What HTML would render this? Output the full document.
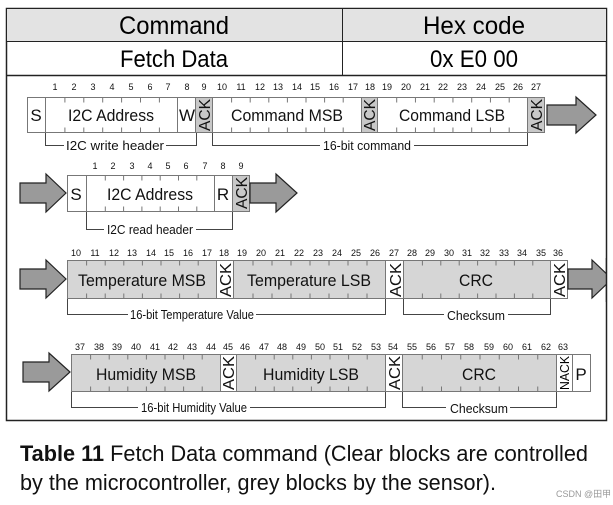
<!DOCTYPE html>
<html><head><meta charset="utf-8"><style>
html,body{margin:0;padding:0;background:#fff;}
svg{display:block;font-family:"Liberation Sans",Arial,sans-serif;}
.n{font-size:9px;text-anchor:middle;fill:#111}
.L{font-size:17px;text-anchor:middle;fill:#111}
.b{font-size:13px;text-anchor:middle;fill:#111}
.a{font-size:16px;text-anchor:middle;fill:#111}
.bx{stroke:#777;stroke-width:1}
.tk{stroke:#777;stroke-width:5}
.br{fill:none;stroke:#444;stroke-width:1}
.ar{fill:#9a9a9a;stroke:#222;stroke-width:1.2}
</style></head><body>
<svg width="613" height="505" viewBox="0 0 613 505">
<rect x="6.5" y="8.5" width="600" height="412" fill="#fff" stroke="#222" stroke-width="1.5"/>
<rect x="7" y="9" width="599" height="32" fill="#e3e3e3"/>
<line x1="6" y1="41.5" x2="607" y2="41.5" stroke="#222"/>
<line x1="6" y1="75.5" x2="607" y2="75.5" stroke="#222" stroke-width="1.5"/>
<line x1="342.5" y1="8" x2="342.5" y2="75" stroke="#222"/>
<text x="174" y="34" font-size="25" text-anchor="middle" textLength="110" lengthAdjust="spacingAndGlyphs">Command</text>
<text x="474" y="34" font-size="25" text-anchor="middle" textLength="102" lengthAdjust="spacingAndGlyphs">Hex code</text>
<text x="174" y="67" font-size="24" text-anchor="middle" textLength="108" lengthAdjust="spacingAndGlyphs">Fetch Data</text>
<text x="474" y="67" font-size="24" text-anchor="middle" textLength="88" lengthAdjust="spacingAndGlyphs">0x E0 00</text>

<!-- Row 1 -->
<g class="n">
<text x="55" y="90">1</text><text x="74" y="90">2</text><text x="93" y="90">3</text><text x="112" y="90">4</text><text x="131" y="90">5</text><text x="150" y="90">6</text><text x="168" y="90">7</text><text x="187" y="90">8</text><text x="204" y="90">9</text>
<text x="222" y="90">10</text><text x="241" y="90">11</text><text x="260" y="90">12</text><text x="278" y="90">13</text><text x="297" y="90">14</text><text x="315" y="90">15</text><text x="334" y="90">16</text><text x="353" y="90">17</text><text x="370" y="90">18</text>
<text x="387" y="90">19</text><text x="406" y="90">20</text><text x="425" y="90">21</text><text x="443" y="90">22</text><text x="462" y="90">23</text><text x="481" y="90">24</text><text x="500" y="90">25</text><text x="518" y="90">26</text><text x="536" y="90">27</text>
</g>
<rect class="bx" x="27.5" y="97.5" width="18" height="35" fill="#fff"/>
<rect class="bx" x="45.5" y="97.5" width="132" height="35" fill="#fff"/>
<rect class="bx" x="177.5" y="97.5" width="18" height="35" fill="#fff"/>
<rect class="bx" x="195.5" y="97.5" width="17" height="35" fill="#c8c8c8"/>
<rect class="bx" x="212.5" y="97.5" width="149" height="35" fill="#fff"/>
<rect class="bx" x="361.5" y="97.5" width="16" height="35" fill="#c8c8c8"/>
<rect class="bx" x="377.5" y="97.5" width="150" height="35" fill="#fff"/>
<rect class="bx" x="527.5" y="97.5" width="17" height="35" fill="#c8c8c8"/>
<line class="tk" x1="64.4" y1="100" x2="178" y2="100" stroke-dasharray="1 17.9"/>
<line class="tk" x1="64.4" y1="130" x2="178" y2="130" stroke-dasharray="1 17.9"/>
<line class="tk" x1="231.1" y1="100" x2="362" y2="100" stroke-dasharray="1 17.6"/>
<line class="tk" x1="231.1" y1="130" x2="362" y2="130" stroke-dasharray="1 17.6"/>
<line class="tk" x1="396.2" y1="100" x2="528" y2="100" stroke-dasharray="1 17.75"/>
<line class="tk" x1="396.2" y1="130" x2="528" y2="130" stroke-dasharray="1 17.75"/>
<text class="L" x="36" y="121">S</text>
<text class="L" x="111" y="121" textLength="86" lengthAdjust="spacingAndGlyphs">I2C Address</text>
<text class="L" x="187" y="121">W</text>
<text class="a" transform="translate(210,115) rotate(-90)" textLength="32" lengthAdjust="spacingAndGlyphs">ACK</text>
<text class="L" x="287" y="121" textLength="112" lengthAdjust="spacingAndGlyphs">Command MSB</text>
<text class="a" transform="translate(375,115) rotate(-90)" textLength="32" lengthAdjust="spacingAndGlyphs">ACK</text>
<text class="L" x="452" y="121" textLength="106" lengthAdjust="spacingAndGlyphs">Command LSB</text>
<text class="a" transform="translate(542,115) rotate(-90)" textLength="32" lengthAdjust="spacingAndGlyphs">ACK</text>
<polygon class="ar" points="547,105 576,105 576,97 596,115 576,133 576,125 547,125"/>
<polyline class="br" points="45.5,133 45.5,145.5 196.5,145.5 196.5,133"/>
<polyline class="br" points="212.5,133 212.5,145.5 527.5,145.5 527.5,133"/>
<rect x="64" y="138" width="102" height="14" fill="#fff"/>
<text class="b" x="115" y="150" textLength="98" lengthAdjust="spacingAndGlyphs">I2C write header</text>
<rect x="320" y="138" width="94" height="14" fill="#fff"/>
<text class="b" x="367" y="150" textLength="88" lengthAdjust="spacingAndGlyphs">16-bit command</text>

<!-- Row 2 -->
<g class="n">
<text x="95" y="169">1</text><text x="113" y="169">2</text><text x="132" y="169">3</text><text x="150" y="169">4</text><text x="168" y="169">5</text><text x="186" y="169">6</text><text x="205" y="169">7</text><text x="223" y="169">8</text><text x="241" y="169">9</text>
</g>
<polygon class="ar" points="20,183 46,183 46,174 66,193 46,212 46,203 20,203"/>
<rect class="bx" x="67.5" y="175.5" width="19" height="36" fill="#fff"/>
<rect class="bx" x="86.5" y="175.5" width="128" height="36" fill="#fff"/>
<rect class="bx" x="214.5" y="175.5" width="18" height="36" fill="#fff"/>
<rect class="bx" x="232.5" y="175.5" width="17" height="36" fill="#c8c8c8"/>
<line class="tk" x1="104.8" y1="178" x2="215" y2="178" stroke-dasharray="1 17.3"/>
<line class="tk" x1="104.8" y1="209" x2="215" y2="209" stroke-dasharray="1 17.3"/>
<text class="L" x="76" y="200">S</text>
<text class="L" x="150" y="200" textLength="86" lengthAdjust="spacingAndGlyphs">I2C Address</text>
<text class="L" x="223" y="200">R</text>
<text class="a" transform="translate(247,193) rotate(-90)" textLength="32" lengthAdjust="spacingAndGlyphs">ACK</text>
<polygon class="ar" points="250,183 276,183 276,174 297,193 276,212 276,203 250,203"/>
<polyline class="br" points="86.5,212 86.5,229.5 232.5,229.5 232.5,212"/>
<rect x="104" y="222" width="92" height="14" fill="#fff"/>
<text class="b" x="150" y="234" textLength="86" lengthAdjust="spacingAndGlyphs">I2C read header</text>

<!-- Row 3 -->
<g class="n">
<text x="76" y="256">10</text><text x="95" y="256">11</text><text x="114" y="256">12</text><text x="132" y="256">13</text><text x="151" y="256">14</text><text x="169" y="256">15</text><text x="188" y="256">16</text><text x="207" y="256">17</text><text x="224" y="256">18</text>
<text x="242" y="256">19</text><text x="261" y="256">20</text><text x="280" y="256">21</text><text x="299" y="256">22</text><text x="318" y="256">23</text><text x="337" y="256">24</text><text x="356" y="256">25</text><text x="375" y="256">26</text><text x="394" y="256">27</text>
<text x="412" y="256">28</text><text x="430" y="256">29</text><text x="449" y="256">30</text><text x="467" y="256">31</text><text x="485" y="256">32</text><text x="504" y="256">33</text><text x="522" y="256">34</text><text x="541" y="256">35</text><text x="558" y="256">36</text>
</g>
<polygon class="ar" points="20,269 46,269 46,260 66,279 46,298 46,289 20,289"/>
<rect class="bx" x="67.5" y="260.5" width="149" height="38" fill="#d6d6d6"/>
<rect class="bx" x="216.5" y="260.5" width="17" height="38" fill="#fff"/>
<rect class="bx" x="233.5" y="260.5" width="152" height="38" fill="#d6d6d6"/>
<rect class="bx" x="385.5" y="260.5" width="18" height="38" fill="#fff"/>
<rect class="bx" x="403.5" y="260.5" width="147" height="38" fill="#d6d6d6"/>
<rect class="bx" x="550.5" y="260.5" width="17" height="38" fill="#fff"/>
<line class="tk" x1="86.1" y1="263" x2="217" y2="263" stroke-dasharray="1 17.6"/>
<line class="tk" x1="86.1" y1="296" x2="217" y2="296" stroke-dasharray="1 17.6"/>
<line class="tk" x1="252.5" y1="263" x2="386" y2="263" stroke-dasharray="1 18"/>
<line class="tk" x1="252.5" y1="296" x2="386" y2="296" stroke-dasharray="1 18"/>
<line class="tk" x1="421.9" y1="263" x2="551" y2="263" stroke-dasharray="1 17.4"/>
<line class="tk" x1="421.9" y1="296" x2="551" y2="296" stroke-dasharray="1 17.4"/>
<text class="L" x="142" y="286" textLength="128" lengthAdjust="spacingAndGlyphs">Temperature MSB</text>
<text class="a" transform="translate(231,280) rotate(-90)" textLength="34" lengthAdjust="spacingAndGlyphs">ACK</text>
<text class="L" x="309" y="286" textLength="124" lengthAdjust="spacingAndGlyphs">Temperature LSB</text>
<text class="a" transform="translate(401,280) rotate(-90)" textLength="34" lengthAdjust="spacingAndGlyphs">ACK</text>
<text class="L" x="476" y="286" textLength="34" lengthAdjust="spacingAndGlyphs">CRC</text>
<text class="a" transform="translate(565,280) rotate(-90)" textLength="34" lengthAdjust="spacingAndGlyphs">ACK</text>
<polygon class="ar" points="568,269 592,269 592,260 612,279 592,298 592,289 568,289"/>
<rect x="606" y="258" width="7" height="44" fill="#fff"/>
<line x1="606.5" y1="258" x2="606.5" y2="302" stroke="#222" stroke-width="1.5"/>
<polyline class="br" points="67.5,299 67.5,314.5 385.5,314.5 385.5,299"/>
<polyline class="br" points="403.5,299 403.5,314.5 550.5,314.5 550.5,299"/>
<rect x="128" y="307" width="128" height="14" fill="#fff"/>
<text class="b" x="192" y="319" textLength="124" lengthAdjust="spacingAndGlyphs">16-bit Temperature Value</text>
<rect x="444" y="307" width="64" height="14" fill="#fff"/>
<text class="b" x="476" y="320" textLength="58" lengthAdjust="spacingAndGlyphs">Checksum</text>

<!-- Row 4 -->
<g class="n">
<text x="80" y="350">37</text><text x="99" y="350">38</text><text x="117" y="350">39</text><text x="136" y="350">40</text><text x="155" y="350">41</text><text x="173" y="350">42</text><text x="192" y="350">43</text><text x="211" y="350">44</text><text x="228" y="350">45</text>
<text x="245" y="350">46</text><text x="264" y="350">47</text><text x="282" y="350">48</text><text x="301" y="350">49</text><text x="320" y="350">50</text><text x="338" y="350">51</text><text x="357" y="350">52</text><text x="376" y="350">53</text><text x="393" y="350">54</text>
<text x="412" y="350">55</text><text x="431" y="350">56</text><text x="450" y="350">57</text><text x="469" y="350">58</text><text x="489" y="350">59</text><text x="508" y="350">60</text><text x="527" y="350">61</text><text x="546" y="350">62</text><text x="563" y="350">63</text>
</g>
<polygon class="ar" points="23,362 49,362 49,353 70,372 49,391 49,382 23,382"/>
<rect class="bx" x="71.5" y="354.5" width="149" height="37" fill="#d6d6d6"/>
<rect class="bx" x="220.5" y="354.5" width="16" height="37" fill="#fff"/>
<rect class="bx" x="236.5" y="354.5" width="149" height="37" fill="#d6d6d6"/>
<rect class="bx" x="385.5" y="354.5" width="17" height="37" fill="#fff"/>
<rect class="bx" x="402.5" y="354.5" width="154" height="37" fill="#d6d6d6"/>
<rect class="bx" x="556.5" y="354.5" width="16" height="37" fill="#fff"/>
<rect class="bx" x="572.5" y="354.5" width="18" height="37" fill="#fff"/>
<line class="tk" x1="90.1" y1="357" x2="221" y2="357" stroke-dasharray="1 17.6"/>
<line class="tk" x1="90.1" y1="389" x2="221" y2="389" stroke-dasharray="1 17.6"/>
<line class="tk" x1="255.1" y1="357" x2="386" y2="357" stroke-dasharray="1 17.6"/>
<line class="tk" x1="255.1" y1="389" x2="386" y2="389" stroke-dasharray="1 17.6"/>
<line class="tk" x1="421.75" y1="357" x2="557" y2="357" stroke-dasharray="1 18.25"/>
<line class="tk" x1="421.75" y1="389" x2="557" y2="389" stroke-dasharray="1 18.25"/>
<text class="L" x="146" y="380" textLength="100" lengthAdjust="spacingAndGlyphs">Humidity MSB</text>
<text class="a" transform="translate(234,373) rotate(-90)" textLength="34" lengthAdjust="spacingAndGlyphs">ACK</text>
<text class="L" x="311" y="380" textLength="96" lengthAdjust="spacingAndGlyphs">Humidity LSB</text>
<text class="a" transform="translate(400,373) rotate(-90)" textLength="34" lengthAdjust="spacingAndGlyphs">ACK</text>
<text class="L" x="479" y="380" textLength="34" lengthAdjust="spacingAndGlyphs">CRC</text>
<text font-size="13" text-anchor="middle" transform="translate(569,373) rotate(-90)" textLength="34" lengthAdjust="spacingAndGlyphs">NACK</text>
<text class="L" x="581" y="380">P</text>
<polyline class="br" points="71.5,392 71.5,407.5 385.5,407.5 385.5,392"/>
<polyline class="br" points="402.5,392 402.5,407.5 556.5,407.5 556.5,392"/>
<rect x="138" y="400" width="112" height="14" fill="#fff"/>
<text class="b" x="194" y="412" textLength="106" lengthAdjust="spacingAndGlyphs">16-bit Humidity Value</text>
<rect x="446" y="400" width="64" height="14" fill="#fff"/>
<text class="b" x="479" y="413" textLength="58" lengthAdjust="spacingAndGlyphs">Checksum</text>

<!-- caption -->
<text x="20" y="461" font-size="22" fill="#111" textLength="568" lengthAdjust="spacingAndGlyphs"><tspan font-weight="bold">Table 11</tspan> Fetch Data command (Clear blocks are controlled</text>
<text x="20" y="490" font-size="22" fill="#111" textLength="476" lengthAdjust="spacingAndGlyphs">by the microcontroller, grey blocks by the sensor).</text>
<text x="556" y="497" font-size="9" fill="#999" font-family="'Liberation Sans','Noto Sans CJK SC',sans-serif">CSDN @田甲</text>
</svg>
</body></html>
